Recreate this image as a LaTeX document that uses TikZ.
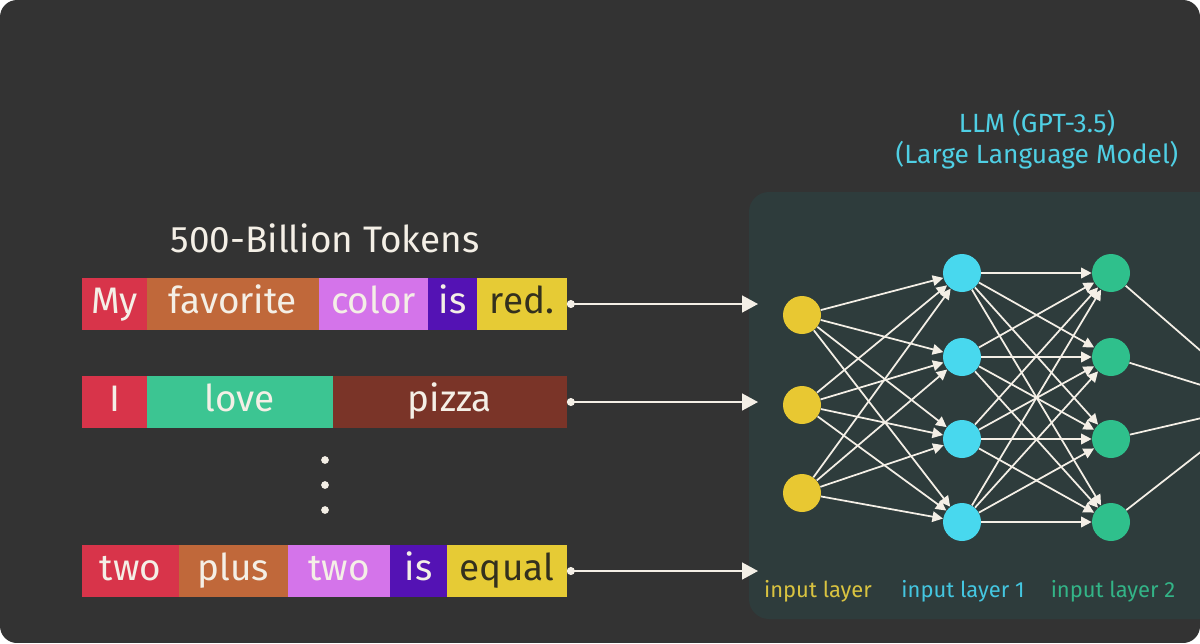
\documentclass[tikz,border=0pt]{standalone}
\usepackage{fontspec}
\setmainfont{Fira Sans}
\usepackage{tikz}
\usetikzlibrary{arrows.meta,positioning}
\definecolor{bgc}{HTML}{333333}
\definecolor{panelc}{HTML}{2E3C3C}
\definecolor{tokred}{HTML}{D8344A}
\definecolor{tokorange}{HTML}{C0683A}
\definecolor{tokpink}{HTML}{D474EA}
\definecolor{tokpurple}{HTML}{5412B4}
\definecolor{tokyellow}{HTML}{E6CB35}
\definecolor{tokgreen}{HTML}{3CC592}
\definecolor{tokbrown}{HTML}{7A3428}
\definecolor{lightfg}{HTML}{F4EFE6}
\definecolor{darkfg}{HTML}{33301E}
\definecolor{nyellow}{HTML}{E8C832}
\definecolor{ncyan}{HTML}{48D8EE}
\definecolor{ngreen}{HTML}{2FC08C}
\definecolor{lyellow}{HTML}{D9C340}
\definecolor{lcyan}{HTML}{44C6E0}
\definecolor{lgreen}{HTML}{33B487}
\definecolor{titlecyan}{HTML}{4FCFE4}

\begin{document}
\begin{tikzpicture}[x=0.02cm,y=-0.02cm,>=Latex,
    tok/.style={fill=#1,text=lightfg,minimum height=1.04cm,inner sep=0pt,outer sep=0pt,%
      text height=14pt,text depth=3.5pt,font=\fontsize{21}{25}\selectfont},
    feed/.style={draw=lightfg,line width=1.1pt,{Circle[length=4.5pt]}-{Triangle[length=9pt,width=9.5pt]}},
    neuron/.style={circle,fill=#1,minimum size=0.76cm,inner sep=0pt},
    link/.style={draw=lightfg,line width=1pt,-{Triangle[length=6pt,width=6pt]}},
    layer/.style={text=#1,font=\fontsize{12.5}{14}\selectfont}]
  \useasboundingbox (0,0) rectangle (1200,643);
  \clip[rounded corners=0.34cm] (0,0) rectangle (1200,643);
  \fill[bgc] (0,0) rectangle (1200,643);
  \fill[panelc,rounded corners=0.4cm] (749,192) rectangle (1260,619);

  \node[text=lightfg,font=\fontsize{21}{25}\selectfont] (title) at (325,238) {500-Billion Tokens};
  \node[text=titlecyan,align=center,font=\fontsize{15}{17.5}\selectfont] (llm) at (1037,140)
    {LLM (GPT-3.5)\\(Large Language Model)};

  \node[tok=tokred,minimum width=1.3cm,anchor=west] (my) at (82,304) {My};
  \node[tok=tokorange,right=0pt of my,minimum width=3.44cm] (fav) {favorite};
  \node[tok=tokpink,right=0pt of fav,minimum width=2.18cm] (color) {color};
  \node[tok=tokpurple,right=0pt of color,minimum width=0.98cm] (is) {is};
  \node[tok=tokyellow,text=darkfg,right=0pt of is,minimum width=1.8cm] (red) {red.};

  \node[tok=tokred,minimum width=1.3cm,anchor=west] (i) at (82,402) {I};
  \node[tok=tokgreen,right=0pt of i,minimum width=3.72cm] (love) {love};
  \node[tok=tokbrown,right=0pt of love,minimum width=4.68cm] (pizza) {pizza};

  \node[tok=tokred,minimum width=1.94cm,anchor=west] (two) at (82,571) {two};
  \node[tok=tokorange,right=0pt of two,minimum width=2.18cm] (plus) {plus};
  \node[tok=tokpink,right=0pt of plus,minimum width=2.04cm] (twob) {two};
  \node[tok=tokpurple,right=0pt of twob,minimum width=1.14cm] (isb) {is};
  \node[tok=tokyellow,text=darkfg,right=0pt of isb,minimum width=2.4cm] (equal) {equal};

  \foreach \y in {460,485,510}
    \fill[lightfg] (325,\y) circle (2.2pt);

  \coordinate (t1) at (758,304);
  \coordinate (t2) at (758,402);
  \coordinate (t3) at (758,571);
  \draw[feed] (red.east) -- (t1);
  \draw[feed] (pizza.east) -- (t2);
  \draw[feed] (equal.east) -- (t3);

  \node[neuron=nyellow] (in1) at (802,315) {};
  \node[neuron=nyellow] (in2) at (802,405) {};
  \node[neuron=nyellow] (in3) at (802,493) {};
  \foreach \j/\y in {1/273,2/357,3/439,4/522} {
    \node[neuron=ncyan] (la\j) at (962,\y) {};
    \node[neuron=ngreen] (lb\j) at (1111,\y) {};
  }
  \coordinate (out) at (1262,404);

  \foreach \i in {1,2,3}
    \foreach \j in {1,...,4}
      \draw[link] (in\i) -- (la\j);
  \foreach \i in {1,...,4}
    \foreach \j in {1,...,4}
      \draw[link] (la\i) -- (lb\j);
  \foreach \i in {1,...,4}
    \draw[draw=lightfg,line width=1pt] (lb\i) -- (out);

  \node[layer=lyellow] (lin) at (818,591) {input layer};
  \node[layer=lcyan] (lla) at (963,591) {input layer 1};
  \node[layer=lgreen] (llb) at (1113,591) {input layer 2};
\end{tikzpicture}
\end{document}
